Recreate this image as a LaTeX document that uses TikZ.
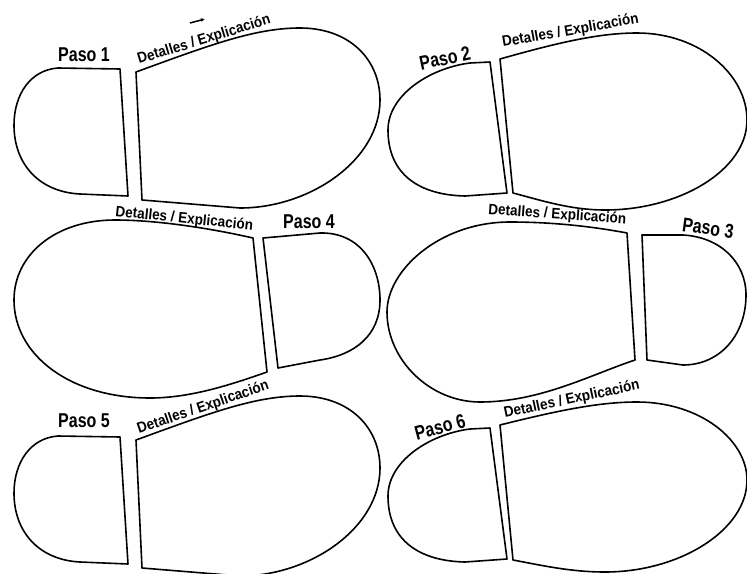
\documentclass[tikz,border=0pt]{standalone}
\usepackage{fontspec}
\usetikzlibrary{arrows.meta}
\newfontfamily\pasof[FakeStretch=0.8]{Liberation Sans}
\newfontfamily\detf[FakeStretch=0.9]{Liberation Sans}
\tikzset{
  shoe/.style={draw=black, line width=1.6pt, line join=round},
  paso/.style={font=\pasof\bfseries\fontsize{20}{20}\selectfont, inner sep=0pt},
  det/.style={font=\detf\bfseries\fontsize{15}{15}\selectfont, inner sep=0pt, anchor=base west}
}
\begin{document}
\begin{tikzpicture}[x=1pt,y=-1pt]
\useasboundingbox (0,0) rectangle (747,573);
% ---- shoe 1 (top left) ----
\draw[shoe] (120,69) -- (58,68) .. controls (30,70) and (14,95) .. (14,125)
  .. controls (14,165) and (40,192) .. (80,194) -- (128,196) -- cycle;
\draw[shoe] (136,72) .. controls (210,45) and (255,28) .. (300,28)
  .. controls (350,28) and (380,60) .. (380,100)
  .. controls (380,160) and (310,208) .. (240,208) -- (142,200) -- cycle;
\node[paso] (p1) at (84,55) {Paso 1};
\node[det, rotate=17] (d1) at (139,64) {Detalles / Explicación};
\draw[line width=1.5pt, -{Latex[length=4pt,width=4pt]}] (190,23) -- (205,19);
% ---- shoe 2 (top right) ----
\draw[shoe] (490,62) -- (470,63) .. controls (430,68) and (388,95) .. (388,130)
  .. controls (388,175) and (420,195) .. (465,196) -- (507,193) -- cycle;
\draw[shoe] (500,59) .. controls (560,42) and (600,33) .. (637,33)
  .. controls (700,33) and (747,75) .. (747,120)
  .. controls (747,170) and (680,210) .. (605,210)
  .. controls (570,210) and (540,200) .. (513,193) -- cycle;
\node[paso, rotate=12] (p2) at (445,58) {Paso 2};
\node[det, rotate=10] (d2) at (503,47) {Detalles / Explicación};
% ---- shoe 3 (middle right, mirrored) ----
\draw[shoe] (627,233) .. controls (590,226) and (550,222) .. (510,222)
  .. controls (440,222) and (387,270) .. (387,312)
  .. controls (387,360) and (430,402) .. (480,402)
  .. controls (540,402) and (590,375) .. (635,360) -- cycle;
\draw[shoe] (642,235) -- (683,235) .. controls (720,237) and (746,262) .. (746,295)
  .. controls (746,335) and (720,365) .. (683,365) -- (647,360) -- cycle;
\node[det, rotate=-4] (d3) at (488,214) {Detalles / Explicación};
\node[paso, rotate=-8] (p3) at (708,228) {Paso 3};
% ---- shoe 4 (middle left, mirrored) ----
\draw[shoe] (253,238) .. controls (200,226) and (150,220) .. (115,220)
  .. controls (55,220) and (14,255) .. (14,300)
  .. controls (14,355) and (70,398) .. (150,398)
  .. controls (190,398) and (230,385) .. (267,372) -- cycle;
\draw[shoe] (263,238) -- (320,233) .. controls (360,232) and (380,265) .. (380,300)
  .. controls (380,335) and (355,355) .. (320,360) -- (278,368) -- cycle;
\node[det, rotate=-6] (d4) at (115,216) {Detalles / Explicación};
\node[paso] (p4) at (309,222) {Paso 4};
% ---- shoe 5 (bottom left) ----
\draw[shoe] (120,437) -- (58,436) .. controls (30,438) and (14,463) .. (14,493)
  .. controls (14,533) and (40,560) .. (80,562) -- (128,564) -- cycle;
\draw[shoe] (136,440) .. controls (210,413) and (255,396) .. (300,396)
  .. controls (350,396) and (380,428) .. (380,468)
  .. controls (380,528) and (310,576) .. (240,576) -- (142,568) -- cycle;
\node[paso] (p5) at (84,421) {Paso 5};
\node[det, rotate=19] (d5) at (139,434) {Detalles / Explicación};
% ---- shoe 6 (bottom right) ----
\draw[shoe] (490,428) -- (470,429) .. controls (430,434) and (388,461) .. (388,496)
  .. controls (388,541) and (420,561) .. (465,562) -- (507,559) -- cycle;
\draw[shoe] (500,425) .. controls (560,410) and (600,402) .. (637,402)
  .. controls (700,402) and (747,440) .. (747,480)
  .. controls (747,530) and (680,572) .. (605,572)
  .. controls (570,572) and (540,565) .. (513,560) -- cycle;
\node[paso, rotate=15] (p6) at (440,427) {Paso 6};
\node[det, rotate=12] (d6) at (505,418) {Detalles / Explicación};
\end{tikzpicture}
\end{document}
